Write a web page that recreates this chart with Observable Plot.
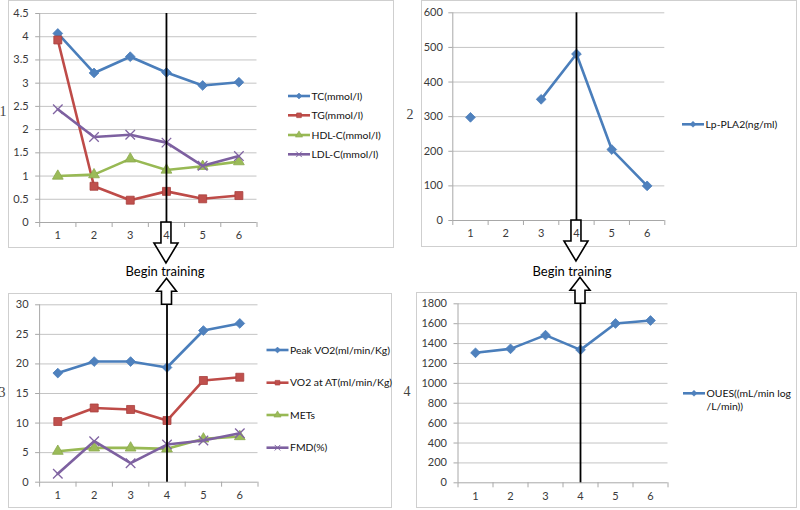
<!DOCTYPE html>
<html><head><meta charset="utf-8">
<script src="https://cdn.jsdelivr.net/npm/d3@7"></script>
<script src="https://cdn.jsdelivr.net/npm/@observablehq/plot@0.6"></script>
<style>
body{margin:0;background:#fff;}
#root{position:relative;width:800px;height:510px;overflow:hidden;font-family:Lato,"Liberation Sans",sans-serif;}
.box{position:absolute;border:1px solid #cfcfcf;box-sizing:border-box;}
.plotwrap{position:absolute;}
.num{position:absolute;font-family:"Liberation Serif",serif;font-size:14px;color:#444;transform:translate(-50%,-50%);}
</style></head>
<body><div id="root"></div>
<script>
// ---- data ----
const visits = [1, 2, 3, 4, 5, 6];
const tc    = [4.07, 3.22, 3.57, 3.23, 2.95, 3.02];
const tg    = [3.93, 0.78, 0.48, 0.67, 0.51, 0.58];
const hdl   = [1.00, 1.03, 1.37, 1.13, 1.21, 1.31];
const ldl   = [2.44, 1.84, 1.89, 1.72, 1.22, 1.43];
const lppla2 = [298, null, 350, 481, 205, 100];
const peakVO2 = [18.45, 20.4, 20.4, 19.4, 25.65, 26.85];
const vo2AT   = [10.26, 12.55, 12.3, 10.43, 17.2, 17.75];
const mets    = [5.24, 5.8, 5.8, 5.64, 7.33, 7.72];
const fmd     = [1.42, 6.93, 3.21, 6.37, 7.04, 8.28];
const oues    = [1307, 1347, 1485, 1337, 1602, 1632];
const ticks1 = [0, 0.5, 1, 1.5, 2, 2.5, 3, 3.5, 4, 4.5];
const ticks2 = [0, 100, 200, 300, 400, 500, 600];
const ticks3 = [0, 5, 10, 15, 20, 25, 30];
const ticks4 = [0, 200, 400, 600, 800, 1000, 1200, 1400, 1600, 1800];
const panelLabels = ["1", "2", "3", "4"];
const annotation = "Begin training";

const BLUE = {line:"#4a7ebb", fill:"#4f81bd", stroke:"#4a7ebb", symbol:"diamond2", r:4.4};
const RED = {line:"#be4b48", fill:"#c0504d", stroke:"#a8403d", symbol:"square", r:4.5};
const GREEN = {line:"#98b954", fill:"#9bbb59", stroke:"#8aa84c", symbol:"triangle", r:4};
const PURPLE = {line:"#7d60a0", fill:"none", stroke:"#8064a2", symbol:"times", r:4.4};

const root = d3.select("#root");

function panel(cfg) {
  const marks = [];
  const top = cfg.ticks[cfg.ticks.length - 1];
  marks.push(Plot.ruleY(cfg.ticks.filter(t => t > 0), {stroke:"#c4c4c4"}));
  marks.push(Plot.ruleX([0.5], {stroke:"#a8a8a8"}));
  marks.push(Plot.ruleY([0], {stroke:"#a8a8a8"}));
  marks.push(Plot.axisY({ticks: cfg.ticks, tickSize: 4, tickPadding: cfg.tickPad, stroke:"#a8a8a8", fill:"#3a3a3a", label:null, tickFormat: d => String(d)}));
  marks.push(Plot.axisX({ticks: visits, tickSize: 0, tickPadding: 9, fill:"#3a3a3a", label:null, tickFormat: d => String(d)}));
  marks.push(Plot.axisX({ticks: [0.5,1.5,2.5,3.5,4.5,5.5,6.5], tickSize: 5, stroke:"#a8a8a8", label:null, tickFormat: () => ""}));
  for (const s of cfg.series) {
    const rows = visits.map((v, i) => ({visit: v, value: s.values[i]}));
    marks.push(Plot.line(rows, {x:"visit", y:"value", stroke:s.style.line, strokeWidth:2.6, curve:"linear"}));
    marks.push(Plot.dot(rows.filter(d => d.value != null), {x:"visit", y:"value", symbol:s.style.symbol, r:s.style.r,
      fill:s.style.fill, stroke:s.style.stroke, strokeWidth: s.style.symbol === "times" ? 1.3 : 0.8}));
  }
  marks.push(Plot.ruleX([4], {stroke:"#000", strokeWidth:1.8}));
  const plot = Plot.plot({
    width: cfg.w, height: cfg.h,
    marginLeft: cfg.ml, marginRight: cfg.mr, marginTop: cfg.mt, marginBottom: cfg.mb,
    x: {type:"linear", domain:[0.5, 6.5], axis:null},
    y: {domain:[0, top], axis:null},
    style: {fontFamily:"Lato, 'Liberation Sans', sans-serif", fontSize:"11px", background:"transparent", overflow:"visible"},
    marks
  });
  root.append("div").attr("class","plotwrap").style("left", cfg.ox+"px").style("top", cfg.oy+"px").node().appendChild(plot);
  return {x: cfg.ox + plot.scale("x").apply(4), y0: cfg.oy + plot.scale("y").apply(0), yTop: cfg.oy + plot.scale("y").apply(top)};
}

// panel boxes
[[8,0,386,248],[421,0,376,247],[8,293,384,215],[416,292,381,216]].forEach(([l,t,w,h]) =>
  root.append("div").attr("class","box").style("left",l+"px").style("top",t+"px").style("width",w+"px").style("height",h+"px"));

const p1 = panel({ox:0, oy:0, w:400, h:260, ml:39.2, mr:143.5, mt:13, mb:38, ticks:ticks1, tickPad:7,
  series:[{values:tc, style:BLUE},{values:tg, style:RED},{values:hdl, style:GREEN},{values:ldl, style:PURPLE}]});
const p2 = panel({ox:400, oy:0, w:400, h:260, ml:52.3, mr:135.7, mt:12.3, mb:40, ticks:ticks2, tickPad:6,
  series:[{values:lppla2, style:BLUE}]});
const p3 = panel({ox:0, oy:260, w:400, h:250, ml:39.1, mr:142.5, mt:44.3, mb:28.3, ticks:ticks3, tickPad:7,
  series:[{values:peakVO2, style:BLUE},{values:vo2AT, style:RED},{values:mets, style:GREEN},{values:fmd, style:PURPLE}]});
const p4 = panel({ox:400, oy:260, w:400, h:250, ml:57.5, mr:132.5, mt:43.3, mb:27.7, ticks:ticks4, tickPad:7,
  series:[{values:oues, style:BLUE}]});

// overlay: legends, arrows, annotation text
const svg = root.append("svg").attr("width",800).attr("height",510)
  .style("position","absolute").style("left","0").style("top","0")
  .style("font-family","Lato, 'Liberation Sans', sans-serif");

function legend(x, y, style, lines) {
  svg.append("line").attr("x1",x).attr("x2",x+22).attr("y1",y).attr("y2",y).attr("stroke",style.line).attr("stroke-width",2.6);
  const sym = {diamond2:d3.symbolDiamond2, square:d3.symbolSquare, triangle:d3.symbolTriangle, times:d3.symbolTimes}[style.symbol];
  svg.append("path").attr("transform",`translate(${x+11},${y})`).attr("d", d3.symbol(sym, 22)())
    .attr("fill", style.fill).attr("stroke", style.stroke).attr("stroke-width", style.symbol === "times" ? 1 : 0.6);
  lines.forEach((t, i) => svg.append("text").attr("x", x+23.5).attr("y", y + i*13.5).attr("dy","0.35em")
    .attr("font-size","10.4px").attr("fill","#111").text(t));
}
legend(288, 96, BLUE, ["TC(mmol/l)"]);
legend(288, 115.3, RED, ["TG(mmol/l)"]);
legend(288, 135, GREEN, ["HDL-C(mmol/l)"]);
legend(288, 154.3, PURPLE, ["LDL-C(mmol/l)"]);
legend(682, 124.3, BLUE, ["Lp-PLA2(ng/ml)"]);
legend(266.5, 350, BLUE, ["Peak VO2(ml/min/Kg)"]);
legend(266.5, 382.7, RED, ["VO2 at AT(ml/min/Kg)"]);
legend(266.5, 415, GREEN, ["METs"]);
legend(266.5, 447.7, PURPLE, ["FMD(%)"]);
legend(683, 393.3, BLUE, ["OUES((mL/min log", "/L/min))"]);

function downArrow(cx, y0) {
  const y1 = y0 + 21, y2 = y1 + 20;
  svg.append("path").attr("d", `M${cx-5},${y0}L${cx+5},${y0}L${cx+5},${y1}L${cx+12},${y1}L${cx},${y2}L${cx-12},${y1}L${cx-5},${y1}Z`)
    .attr("fill","none").attr("stroke","#000").attr("stroke-width",1.6).attr("stroke-linejoin","miter");
}
function upArrow(cx, y0) {
  const y1 = y0 - 13, y2 = y1 - 13;
  svg.append("path").attr("d", `M${cx-5},${y0}L${cx+5},${y0}L${cx+5},${y1}L${cx+10},${y1}L${cx},${y2}L${cx-10},${y1}L${cx-5},${y1}Z`)
    .attr("fill","#fff").attr("stroke","#000").attr("stroke-width",1.6).attr("stroke-linejoin","miter");
}
downArrow(p1.x, p1.y0);
downArrow(p2.x, p2.y0);
upArrow(p3.x, p3.yTop);
upArrow(p4.x, p4.yTop);

svg.append("text").attr("x", 165).attr("y", 271).attr("dy","0.35em").attr("text-anchor","middle").attr("font-size","13px").attr("fill","#000").text(annotation);
svg.append("text").attr("x", 572).attr("y", 271).attr("dy","0.35em").attr("text-anchor","middle").attr("font-size","13px").attr("fill","#000").text(annotation);

// panel numbers
[[3,112],[410,115],[2,393],[407,392]].forEach(([x,y], i) =>
  root.append("div").attr("class","num").style("left",x+"px").style("top",y+"px").text(panelLabels[i]));
</script>
</body></html>
